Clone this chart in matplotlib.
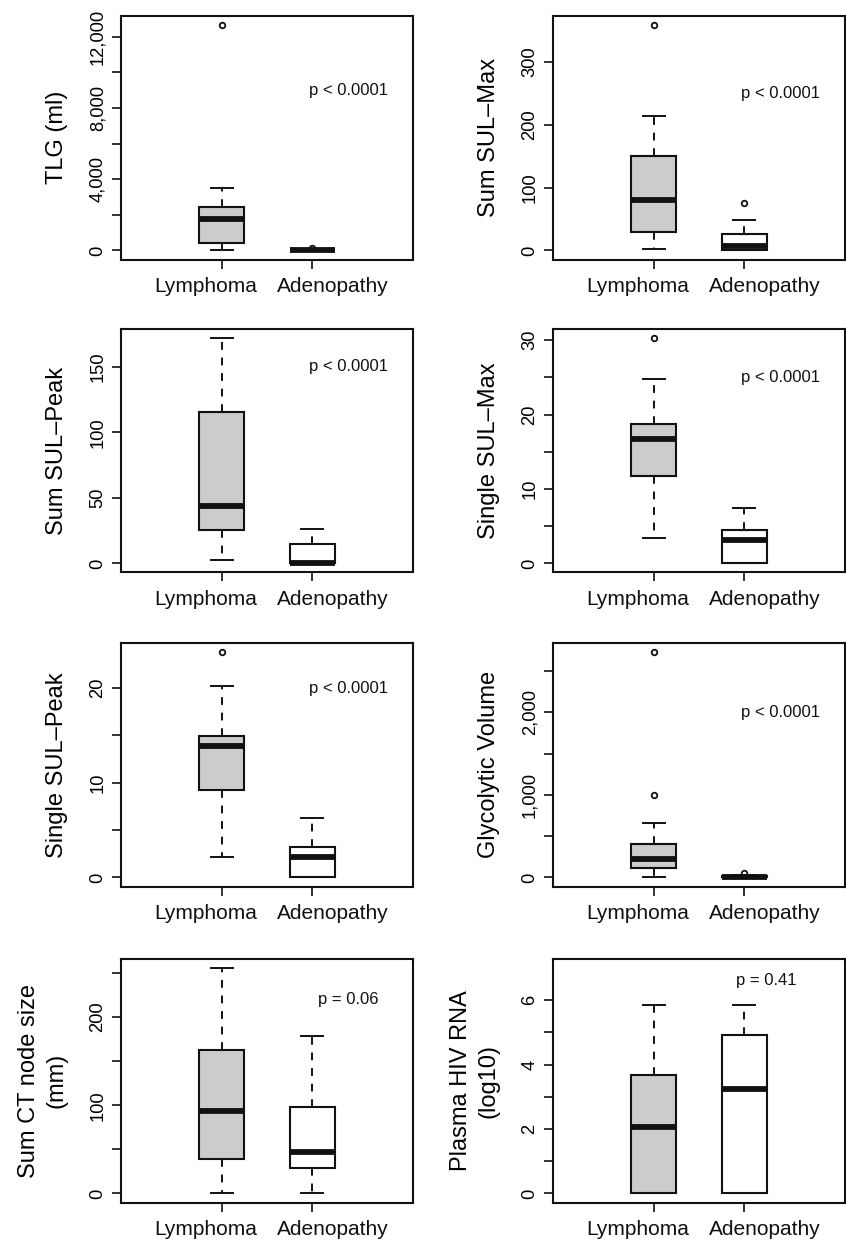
import numpy as np
import matplotlib.pyplot as plt
from matplotlib.transforms import blended_transform_factory

plt.rcParams['font.family'] = ['Liberation Sans', 'DejaVu Sans']

# %% data
groups = ["Lymphoma", "Adenopathy"]

# five number summaries per group: whisker low, q1, median, q3, whisker high
tlg_lym = [0, 411, 1744, 2458, 3527]
tlg_ade = [0, 0, 15, 45, 80]
tlg_out = [[12656], [150]]

sulmax_lym = [3, 29, 80, 151, 214]
sulmax_ade = [0, 1, 7, 26, 48]
sulmax_out = [[359], [76]]

sulpeak_lym = [2.3, 25.5, 43.8, 115.7, 172]
sulpeak_ade = [0, 0, 0.5, 15, 26]
sulpeak_out = [[], []]

single_max_lym = [3.45, 11.8, 16.7, 18.8, 24.8]
single_max_ade = [0, 0, 3.1, 4.5, 7.5]
single_max_out = [[30.3], []]

single_peak_lym = [2.18, 9.19, 13.9, 14.96, 20.25]
single_peak_ade = [0, 0, 2.15, 3.2, 6.27]
single_peak_out = [[23.8], []]

glyc_lym = [0, 109, 222, 400, 659]
glyc_ade = [0, 0, 8, 18, 30]
glyc_out = [[2731, 998], [50]]

ct_lym = [0, 39.2, 93.2, 163, 255.5]
ct_ade = [0, 29, 47.2, 97.7, 179]
ct_out = [[], []]

hiv_lym = [0, 0, 2.07, 3.68, 5.86]
hiv_ade = [0, 0, 3.23, 4.91, 5.86]
hiv_out = [[], []]

ylabels = ["TLG (ml)", "Sum SUL\u2013Max", "Sum SUL\u2013Peak", "Single SUL\u2013Max",
           "Single SUL\u2013Peak", "Glycolytic Volume", "Sum CT node size\n(mm)",
           "Plasma HIV RNA\n(log10)"]
ptexts = ["p < 0.0001"] * 6 + ["p = 0.06", "p = 0.41"]
ptext_x = [2.4, 2.4, 2.4, 2.4, 2.4, 2.4, 2.4, 2.25]
ptext_y = [9000, 250, 150, 25, 20, 2000, 220, 6.6]

yticks = [np.arange(0, 12001, 2000), np.arange(0, 301, 100), np.arange(0, 151, 50),
          np.arange(0, 31, 5), np.arange(0, 21, 5), np.arange(0, 2501, 500),
          np.arange(0, 251, 50), np.arange(0, 7, 1)]
ylabel_every = [2, 1, 1, 2, 2, 2, 2, 2]
fixed_ylim = [None] * 7 + [(0, 7)]

summaries = [(tlg_lym, tlg_ade, tlg_out), (sulmax_lym, sulmax_ade, sulmax_out),
             (sulpeak_lym, sulpeak_ade, sulpeak_out),
             (single_max_lym, single_max_ade, single_max_out),
             (single_peak_lym, single_peak_ade, single_peak_out),
             (glyc_lym, glyc_ade, glyc_out), (ct_lym, ct_ade, ct_out),
             (hiv_lym, hiv_ade, hiv_out)]


def make_stats(lym, ade, out):
    stats = []
    for s, fl, name in zip([lym, ade], out, groups):
        stats.append(dict(whislo=s[0], q1=s[1], med=s[2], q3=s[3], whishi=s[4],
                          fliers=np.array(fl), label=name))
    return stats


def fmt(v):
    return f"{int(v):,}"


# %% figure
W, H = 846, 1243
fig = plt.figure(figsize=(W / 100, H / 100), dpi=100)

col_left = [121, 553]
row_top = [16, 329, 643, 959]
aw, ah = 292, 243.5
group_label_x = [0.82, 2.23]  # group names sit spread apart under the ticks

for i, (lym, ade, out) in enumerate(summaries):
    r, c = divmod(i, 2)
    ax = fig.add_axes([col_left[c] / W, 1 - (row_top[r] + ah) / H, aw / W, ah / H])
    stats = make_stats(lym, ade, out)
    bp = ax.bxp(stats, positions=[1, 2], widths=0.5, capwidths=0.25,
                patch_artist=True,
                boxprops=dict(lw=1.5, edgecolor="#111111"),
                whiskerprops=dict(lw=1.4, color="#111111", linestyle=(0, (4, 4))),
                capprops=dict(lw=1.4, color="#111111"),
                medianprops=dict(lw=4.2, color="#111111", solid_capstyle="butt"),
                flierprops=dict(marker="o", markersize=4, mfc="none",
                                mec="#111111", mew=1.3))
    for patch, fc in zip(bp["boxes"], ["#cccccc", "white"]):
        patch.set_facecolor(fc)

    # R style axis limits: 4% extension of the range
    if fixed_ylim[i] is None:
        vals = [v for s in (lym, ade) for v in s] + [v for f in out for v in f]
        lo, hi = min(vals), max(vals)
    else:
        lo, hi = fixed_ylim[i]
    pad = 0.04 * (hi - lo)
    ax.set_ylim(lo - pad, hi + pad)
    ax.set_xlim(-0.12, 3.12)

    ticks = yticks[i]
    labs = [fmt(t) if k % ylabel_every[i] == 0 else "" for k, t in enumerate(ticks)]
    ax.set_yticks(ticks)
    ax.set_yticklabels(labs, rotation=90, va="center", fontsize=13.2)
    ax.set_xticks([1, 2])
    ax.set_xticklabels(["", ""])
    ax.tick_params(axis="both", direction="out", length=6.5, width=1.2, color="#111111")
    ax.tick_params(axis="y", pad=4)
    for sp in ax.spines.values():
        sp.set_linewidth(1.5)
        sp.set_color("#111111")

    trans = blended_transform_factory(ax.transData, ax.transAxes)
    for gx, g in zip(group_label_x, groups):
        ax.text(gx, -27 / ah, g, transform=trans, ha="center", va="center",
                fontsize=15, color="#111111")

    two_line = "\n" in ylabels[i]
    ax.set_ylabel(ylabels[i], fontsize=17, va="center", linespacing=1.3)
    ax.yaxis.set_label_coords(-(78 if two_line else 64) / aw, 0.5)

    ax.text(ptext_x[i], ptext_y[i], ptexts[i], ha="center", va="center",
            fontsize=12, color="#111111")

fig.savefig("out.png", dpi=100)
